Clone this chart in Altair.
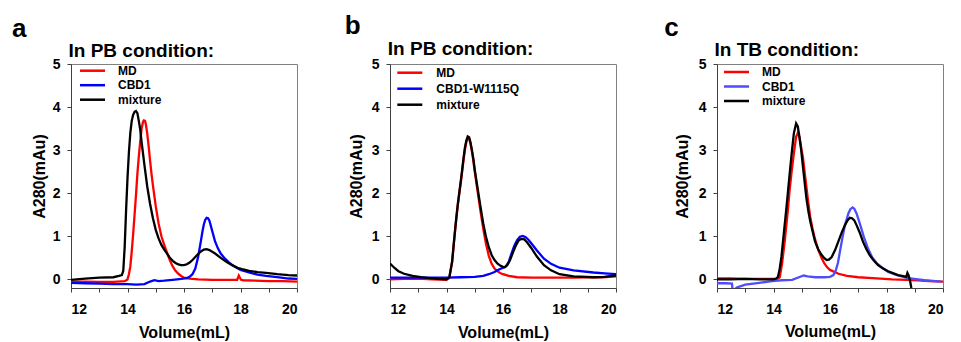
import altair as alt
import pandas as pd

FONT = "Liberation Sans"

# ---------------- panel a (In PB condition) ----------------
A_MD_X = [12.0, 12.5, 13.0, 13.5, 13.9, 14.0, 14.05, 14.1, 14.15, 14.2, 14.25, 14.3, 14.35, 14.4, 14.45, 14.5,
          14.55, 14.58, 14.62, 14.65, 14.7, 14.75, 14.8, 14.85, 14.9, 15.0, 15.1, 15.2, 15.3, 15.4, 15.5, 15.6,
          15.7, 15.8, 15.9, 16.0, 16.2, 16.5, 17.0, 17.5, 17.88, 17.94, 17.97, 18.02, 18.1, 18.5, 19.0, 19.5, 20.0]
A_MD_Y = [-0.05, -0.05, -0.06, -0.06, -0.04, 0.0, 0.12, 0.3, 0.65, 1.05, 1.5, 1.95, 2.45, 2.85, 3.2, 3.5,
          3.66, 3.69, 3.68, 3.6, 3.38, 3.08, 2.75, 2.45, 2.18, 1.7, 1.3, 1.0, 0.8, 0.62, 0.44, 0.3,
          0.2, 0.13, 0.08, 0.04, 0.02, 0.0, -0.01, -0.01, -0.01, 0.09, 0.05, -0.01, -0.02, -0.03, -0.04, -0.04, -0.05]

A_CBD_X = [12.0, 12.5, 13.0, 13.5, 14.0, 14.3, 14.6, 14.8, 14.95, 15.1, 15.3, 15.6, 15.9, 16.1, 16.2, 16.3,
           16.4, 16.5, 16.6, 16.65, 16.7, 16.75, 16.8, 16.85, 16.9, 17.0, 17.1, 17.2, 17.3, 17.45, 17.6, 17.8,
           18.0, 18.3, 18.6, 18.9, 19.3, 19.7, 20.0]
A_CBD_Y = [-0.08, -0.09, -0.1, -0.11, -0.11, -0.12, -0.11, -0.05, -0.02, -0.04, -0.03, -0.01, 0.01, 0.03, 0.06, 0.12,
           0.25, 0.52, 0.9, 1.1, 1.27, 1.38, 1.43, 1.42, 1.36, 1.12, 0.88, 0.72, 0.6, 0.48, 0.39, 0.29,
           0.22, 0.16, 0.11, 0.08, 0.05, 0.02, 0.01]

A_MIX_X = [12.0, 12.5, 13.0, 13.5, 13.7, 13.8, 13.85, 13.9, 13.95, 14.0, 14.05, 14.1, 14.15, 14.2, 14.25, 14.3,
           14.35, 14.4, 14.45, 14.5, 14.55, 14.6, 14.7, 14.8, 14.9, 15.0, 15.1, 15.2, 15.3, 15.4, 15.5, 15.6,
           15.7, 15.8, 15.9, 16.0, 16.1, 16.2, 16.3, 16.4, 16.5, 16.6, 16.7, 16.8, 16.9, 17.0, 17.1, 17.3,
           17.5, 17.7, 17.9, 18.1, 18.3, 18.6, 18.9, 19.3, 19.7, 20.0]
A_MIX_Y = [-0.01, 0.02, 0.04, 0.05, 0.08, 0.1, 0.2, 0.75, 1.6, 2.35, 2.95, 3.4, 3.68, 3.82, 3.89, 3.91,
           3.86, 3.68, 3.48, 3.18, 2.92, 2.65, 2.15, 1.75, 1.42, 1.15, 0.95, 0.8, 0.69, 0.6, 0.5, 0.43,
           0.38, 0.35, 0.33, 0.33, 0.35, 0.39, 0.45, 0.52, 0.59, 0.65, 0.69, 0.7, 0.68, 0.64, 0.6, 0.5,
           0.41, 0.33, 0.27, 0.23, 0.2, 0.17, 0.15, 0.12, 0.1, 0.09]

# ---------------- panel b (In PB condition, mutant) ----------------
B_MD_X = [12.0, 12.5, 13.0, 13.5, 14.0, 14.1, 14.2, 14.25, 14.3, 14.35, 14.4, 14.45, 14.5, 14.55, 14.6, 14.65,
          14.7, 14.75, 14.8, 14.85, 14.9, 14.95, 15.0, 15.1, 15.2, 15.3, 15.4, 15.5, 15.6, 15.7, 15.8, 15.9,
          16.0, 16.2, 16.5, 17.0, 17.5, 18.0, 18.5, 19.0, 19.5, 20.0]
B_MD_Y = [0.0, 0.01, 0.02, 0.0, -0.01, 0.03, 0.4, 0.76, 1.1, 1.42, 1.72, 1.98, 2.22, 2.48, 2.76, 3.0,
          3.18, 3.28, 3.27, 3.15, 2.97, 2.76, 2.5, 2.05, 1.6, 1.18, 0.82, 0.54, 0.36, 0.25, 0.19, 0.15,
          0.12, 0.08, 0.05, 0.04, 0.04, 0.04, 0.04, 0.05, 0.05, 0.07]

B_CBD_X = [12.0, 12.5, 13.0, 13.5, 14.0, 14.5, 15.0, 15.3, 15.5, 15.7, 15.8, 15.9, 16.0, 16.1, 16.2, 16.3,
           16.4, 16.5, 16.6, 16.7, 16.8, 16.9, 17.0, 17.2, 17.45, 17.7, 18.0, 18.5, 19.2, 19.6, 20.0]
B_CBD_Y = [0.04, 0.04, 0.04, 0.04, 0.04, 0.05, 0.06, 0.08, 0.12, 0.17, 0.21, 0.24, 0.27, 0.3, 0.4, 0.6,
           0.78, 0.91, 0.99, 1.01, 0.98, 0.92, 0.84, 0.67, 0.48, 0.36, 0.27, 0.21, 0.16, 0.14, 0.12]

B_MIX_X = [12.0, 12.15, 12.3, 12.5, 12.8, 13.1, 13.4, 13.7, 14.0, 14.1, 14.2, 14.25, 14.3, 14.35, 14.4, 14.45,
           14.5, 14.55, 14.6, 14.65, 14.7, 14.75, 14.8, 14.85, 14.9, 14.95, 15.0, 15.1, 15.2, 15.3, 15.4, 15.5,
           15.6, 15.7, 15.8, 15.9, 16.0, 16.06, 16.15, 16.25, 16.35, 16.45, 16.55, 16.65, 16.75, 16.85, 17.0, 17.2,
           17.45, 17.7, 18.0, 18.5, 19.2, 19.6, 20.0]
B_MIX_Y = [0.37, 0.27, 0.19, 0.13, 0.08, 0.05, 0.03, 0.01, 0.0, 0.05, 0.42, 0.78, 1.12, 1.45, 1.75, 2.0,
           2.25, 2.52, 2.8, 3.05, 3.22, 3.32, 3.3, 3.18, 3.0, 2.8, 2.55, 2.12, 1.7, 1.3, 0.98, 0.74,
           0.56, 0.45, 0.37, 0.32, 0.29, 0.28, 0.33, 0.45, 0.62, 0.78, 0.9, 0.94, 0.93, 0.86, 0.73, 0.53,
           0.33, 0.21, 0.12, 0.07, 0.05, 0.06, 0.09]

# ---------------- panel c (In TB condition) ----------------
C_MD_X = [12.0, 12.5, 13.0, 13.5, 14.0, 14.15, 14.22, 14.3, 14.4, 14.5, 14.57, 14.65, 14.72, 14.8, 14.86, 14.92,
          15.0, 15.04, 15.1, 15.22, 15.3, 15.38, 15.45, 15.53, 15.6, 15.7, 15.8, 15.9, 16.0, 16.3, 16.6, 17.0,
          17.5, 18.2, 18.7, 19.1, 19.5, 20.0]
C_MD_Y = [0.02, 0.02, 0.01, 0.01, 0.01, 0.02, 0.05, 0.35, 0.9, 1.55, 2.07, 2.55, 2.92, 3.31, 3.4, 3.3,
          2.98, 2.84, 2.5, 1.84, 1.45, 1.18, 0.98, 0.8, 0.66, 0.5, 0.37, 0.28, 0.22, 0.13, 0.08, 0.05,
          0.03, 0.0, -0.01, -0.02, -0.04, -0.05]

C_CBD_X = [12.0, 12.3, 12.53, 12.56, 12.6, 12.7, 13.0, 13.5, 13.95, 14.3, 14.66, 14.9, 15.07, 15.2, 15.48, 15.8,
           16.0, 16.12, 16.2, 16.28, 16.35, 16.45, 16.53, 16.6, 16.65, 16.72, 16.8, 16.86, 16.94, 17.02, 17.11, 17.2,
           17.35, 17.5, 17.65, 17.85, 18.06, 18.4, 18.76, 19.35, 19.94]
C_CBD_Y = [-0.09, -0.09, -0.1, -0.3, -0.25, -0.19, -0.12, -0.08, -0.04, -0.02, -0.01, 0.05, 0.09, 0.07, 0.05, 0.05,
           0.06, 0.1, 0.2, 0.38, 0.64, 1.0, 1.26, 1.42, 1.53, 1.63, 1.67, 1.64, 1.53, 1.37, 1.18, 0.98,
           0.71, 0.5, 0.38, 0.27, 0.17, 0.09, 0.03, -0.02, -0.05]

C_MIX_X = [12.0, 12.5, 13.0, 13.5, 14.0, 14.1, 14.16, 14.22, 14.28, 14.37, 14.46, 14.55, 14.63, 14.72, 14.8, 14.86,
           14.92, 14.98, 15.07, 15.16, 15.23, 15.3, 15.39, 15.47, 15.58, 15.7, 15.8, 15.88, 15.96, 16.06, 16.18, 16.29,
           16.41, 16.53, 16.62, 16.7, 16.78, 16.86, 16.94, 17.05, 17.17, 17.29, 17.41, 17.55, 17.7, 17.88, 18.06, 18.25,
           18.41, 18.55, 18.7, 18.74, 18.78, 18.83, 18.88, 18.95]
C_MIX_Y = [0.0, 0.0, 0.01, 0.0, 0.0, 0.02, 0.06, 0.25, 0.52, 1.1, 1.68, 2.3, 2.84, 3.39, 3.62, 3.55,
           3.3, 3.0, 2.45, 1.91, 1.6, 1.35, 1.1, 0.88, 0.7, 0.57, 0.49, 0.45, 0.46, 0.52, 0.68, 0.87,
           1.08, 1.26, 1.37, 1.43, 1.42, 1.37, 1.26, 1.09, 0.87, 0.7, 0.56, 0.44, 0.33, 0.25, 0.19, 0.14,
           0.1, 0.08, 0.06, 0.15, 0.1, -0.02, -0.2, -0.4]

LETTERS = ["a", "b", "c"]
TITLES = ["In PB condition:", "In PB condition:", "In TB condition:"]
NAMES_A = ["MD", "CBD1", "mixture"]
NAMES_B = ["MD", "CBD1-W1115Q", "mixture"]
NAMES_C = ["MD", "CBD1", "mixture"]
COLORS_A = ["#ff0000", "#0000ff", "#000000"]
COLORS_B = ["#ff0000", "#0000ff", "#000000"]
COLORS_C = ["#ff0000", "#4d4dff", "#000000"]
X_TICKS = [12, 13, 14, 15, 16, 17, 18, 19, 20]
Y_TICKS = [0, 1, 2, 3, 4, 5]

W, H = 226, 224


def make_df(names, xs_list, ys_list):
    rows = []
    for name, xs, ys in zip(names, xs_list, ys_list):
        for x, y in zip(xs, ys):
            rows.append({"vol": x, "a280": y, "series": name})
    return pd.DataFrame(rows)


def panel(letter, title, names, colors, xs_list, ys_list, letter_pos, title_pos,
          legend_pos, label_off, row_pad, ytitle_pad, xtitle_pad):
    df = make_df(names, xs_list, ys_list)
    color = alt.Color(
        "series:N",
        scale=alt.Scale(domain=names, range=colors),
        legend=alt.Legend(
            title=None, orient="none", legendX=legend_pos[0], legendY=legend_pos[1],
            symbolType="M-2.5,0H2.5", symbolSize=100, symbolStrokeWidth=2.5,
            labelFont=FONT, labelFontWeight="bold", labelFontSize=12, labelColor="black",
            labelOffset=label_off, rowPadding=row_pad, padding=0,
        ),
    )
    x = alt.X(
        "vol:Q",
        scale=alt.Scale(domain=[12, 20], nice=False, zero=False),
        axis=alt.Axis(values=X_TICKS, labelExpr="datum.value % 2 == 0 ? datum.label : ''",
                      title="Volume(mL)", titlePadding=xtitle_pad, labelPadding=10),
    )
    y = alt.Y(
        "a280:Q",
        scale=alt.Scale(domain=[-0.2, 5], nice=False, zero=False),
        axis=alt.Axis(values=Y_TICKS, title="A280(mAu)", titlePadding=ytitle_pad, labelPadding=7),
    )
    layers = []
    for name in names:
        layers.append(
            alt.Chart(df)
            .transform_filter(alt.datum.series == name)
            .mark_line(strokeWidth=2.3, clip=True)
            .encode(x=x, y=y, color=color)
        )
    letter_layer = alt.Chart(pd.DataFrame({"t": [letter]})).mark_text(
        font=FONT, fontWeight="bold", fontSize=26, align="left", baseline="alphabetic", color="black"
    ).encode(text="t:N", x=alt.value(letter_pos[0]), y=alt.value(letter_pos[1]))
    title_layer = alt.Chart(pd.DataFrame({"t": [title]})).mark_text(
        font=FONT, fontWeight="bold", fontSize=19, align="left", baseline="alphabetic", color="black"
    ).encode(text="t:N", x=alt.value(title_pos[0]), y=alt.value(title_pos[1]))
    return alt.layer(*layers, letter_layer, title_layer).properties(width=W, height=H)


pa = panel(LETTERS[0], TITLES[0], NAMES_A, COLORS_A, [A_MD_X, A_CBD_X, A_MIX_X], [A_MD_Y, A_CBD_Y, A_MIX_Y],
           (-59, -27.3), (-2.5, -7.3), (15, 0.2), 19, 1.5, 5, 8)
pb = panel(LETTERS[1], TITLES[1], NAMES_B, COLORS_B, [B_MD_X, B_CBD_X, B_MIX_X], [B_MD_Y, B_CBD_Y, B_MIX_Y],
           (-45.3, -30.3), (-2.2, -8.6), (13.3, 2.2), 20, 3, 7, 8)
pc = panel(LETTERS[2], TITLES[2], NAMES_C, COLORS_C, [C_MD_X, C_CBD_X, C_MIX_X], [C_MD_Y, C_CBD_Y, C_MIX_Y],
           (-52.7, -27.7), (-2.5, -7.7), (13, 1.5), 19, 1.5, 8, 7)

chart = (
    alt.hconcat(pa, pb, pc, spacing=46)
    .resolve_scale(color="independent", x="independent", y="independent")
    .resolve_legend(color="independent")
    .properties(padding={"left": 3, "top": 4, "right": 0, "bottom": 0})
    .configure_view(stroke="#808080", strokeWidth=1)
    .configure_axis(
        labelFont=FONT, labelFontSize=14, labelFontWeight="bold", labelColor="black",
        titleFont=FONT, titleFontSize=16, titleFontWeight="bold", titleColor="black",
        grid=False, tickSize=4, tickColor="#404040", domainColor="#404040", tickWidth=1, domainWidth=1,
    )
)

chart.save("out.html", embed_options={"renderer": "svg", "actions": False})
